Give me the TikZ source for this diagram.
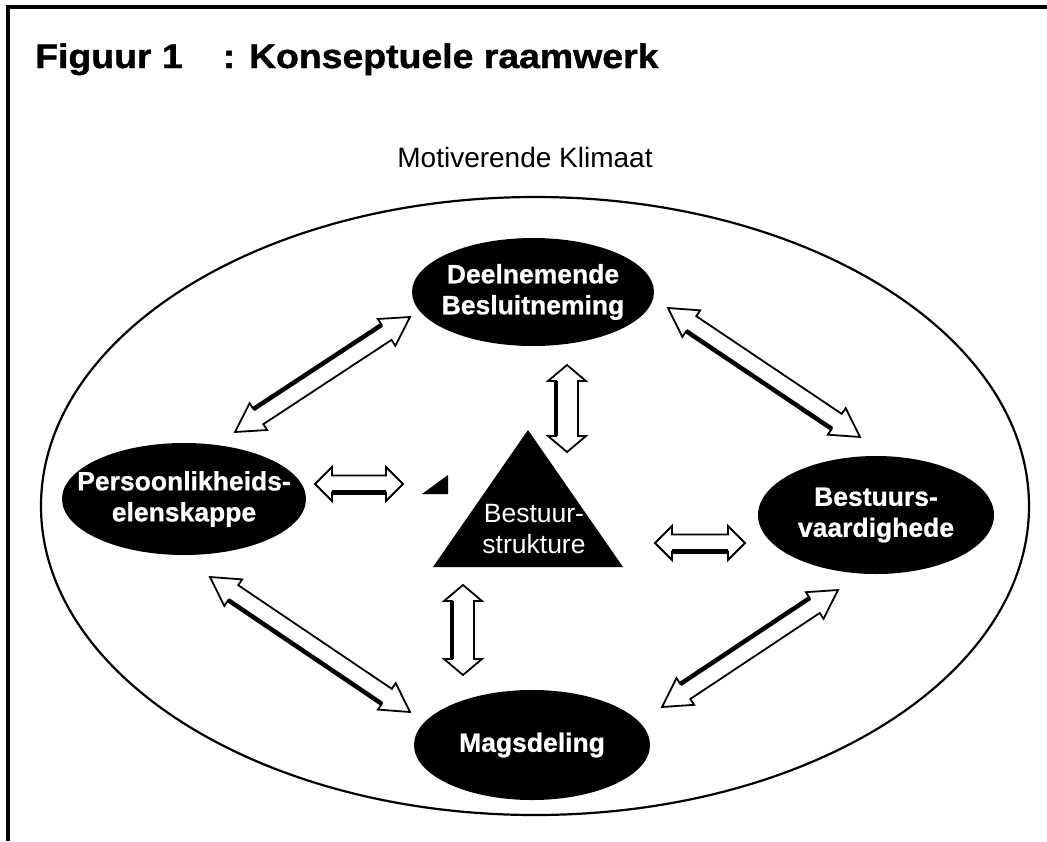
\documentclass[tikz,border=0pt]{standalone}
\usepackage{fontspec}
\setmainfont{Liberation Sans}
\newfontfamily\titlefont{Liberation Sans Bold}[FakeStretch=1.1, FakeBold=1.2]
\newfontfamily\blobfont{Liberation Sans Bold}[FakeBold=0.8]
\usetikzlibrary{calc,shapes.geometric}
\tikzset{
  blobtext/.style={inner sep=0pt, text=white,
    font=\blobfont\fontsize{26.5}{31}\selectfont, align=center},
  arrbody/.style={draw=black, fill=white, line width=1.8pt, line join=miter, miter limit=10},
  arrshade/.style={draw=black, line width=4.5pt, line cap=butt},
  frameline/.style={draw=black, line width=3.5pt},
}
\newcommand{\ahl}{28pt}
\newcommand{\ahw}{16pt}
\newcommand{\asw}{9pt}
\newcommand{\dblarr}[4]{%
  \coordinate (#1h) at ($(#1)!\ahl!(#2)$);
  \coordinate (#2h) at ($(#2)!\ahl!(#1)$);
  \draw[arrbody] (#1) -- ($(#1h)!\ahw!90:(#2)$) -- ($(#1h)!\asw!90:(#2)$)
    -- ($(#2h)!\asw!-90:(#1)$) -- ($(#2h)!\ahw!-90:(#1)$) -- (#2)
    -- ($(#2h)!\ahw!90:(#1)$) -- ($(#2h)!\asw!90:(#1)$)
    -- ($(#1h)!\asw!-90:(#2)$) -- ($(#1h)!\ahw!-90:(#2)$) -- cycle;
  \draw[arrshade] ($(#1h)!\asw!#3:(#2)$) -- ($(#2h)!\asw!#4:(#1)$);
}
\begin{document}
\begin{tikzpicture}[x=1pt, y=-1pt]
\useasboundingbox (0,0) rectangle (1047,841);
\fill[white] (0,0) rectangle (1047,841);
% frame
\coordinate (fTL) at (8,7);
\coordinate (fTR) at (1047,7);
\coordinate (fBL) at (8,841);
\draw[frameline] (fBL) -- (fTL) -- (fTR);
% title
\node[anchor=base west, inner sep=0pt, font=\titlefont\fontsize{34}{40}\selectfont] (title) at (35,68)
  {Figuur 1\hspace{40pt}: Konseptuele raamwerk};
\node[inner sep=0pt, font=\fontsize{28}{33}\selectfont] (klimaat) at (525,157) {Motiverende Klimaat};
% big ellipse
\coordinate (oc) at (535,506);
\draw[line width=2.2pt] (oc) ellipse [x radius=494, y radius=309];
% black ellipses
\coordinate (dmc) at (533,292);
\coordinate (pec) at (184,499);
\coordinate (bvc) at (876,515);
\coordinate (mdc) at (532,745);
\fill[black] (dmc) ellipse [x radius=121, y radius=54];
\fill[black] (pec) ellipse [x radius=122, y radius=56];
\fill[black] (bvc) ellipse [x radius=118, y radius=59];
\fill[black] (mdc) ellipse [x radius=118, y radius=55];
\node[blobtext] (dm) at (dmc) {Deelnemende\\Besluitneming};
\node[blobtext] (pe) at (pec) {Persoonlikheids-\\elenskappe};
\node[blobtext] (bv) at (bvc) {Bestuurs-\\vaardighede};
\node[blobtext] (md) at (mdc) {Magsdeling};
% triangle
\coordinate (tA) at (528,430);
\coordinate (tB) at (433,567);
\coordinate (tC) at (623,567);
\fill[black] (tA) -- (tB) -- (tC) -- cycle;
\node[inner sep=0pt, text=white, align=center, font=\fontsize{26.5}{31}\selectfont] (bs) at (534,529) {Bestuur-\\strukture};
% small fragment
\coordinate (fr1) at (422,494);
\coordinate (fr2) at (448,475);
\coordinate (fr3) at (448,494);
\fill[black] (fr1) -- (fr2) -- (fr3) -- cycle;
% arrow end points
\coordinate (a1) at (235,432); \coordinate (a2) at (410,317);
\coordinate (b1) at (668,308); \coordinate (b2) at (860,437);
\coordinate (c1) at (210,577); \coordinate (c2) at (410,712);
\coordinate (d1) at (662,707); \coordinate (d2) at (838,590);
\coordinate (e1) at (315,484); \coordinate (e2) at (403,484);
\coordinate (f1) at (655,543); \coordinate (f2) at (745,543);
\coordinate (g1) at (567,365); \coordinate (g2) at (567,452);
\coordinate (h1) at (463,585); \coordinate (h2) at (463,675);
% diagonal arrows
\dblarr{a1}{a2}{90}{-90}
\dblarr{b1}{b2}{-90}{90}
\dblarr{c1}{c2}{-90}{90}
\dblarr{d1}{d2}{90}{-90}
% horizontal arrows
\renewcommand{\ahl}{17pt}\renewcommand{\ahw}{17pt}\renewcommand{\asw}{8.5pt}
\dblarr{e1}{e2}{-90}{90}
\dblarr{f1}{f2}{-90}{90}
% vertical arrows
\renewcommand{\ahl}{16pt}\renewcommand{\ahw}{19pt}\renewcommand{\asw}{11pt}
\dblarr{g1}{g2}{-90}{90}
\dblarr{h1}{h2}{-90}{90}
\end{tikzpicture}
\end{document}
